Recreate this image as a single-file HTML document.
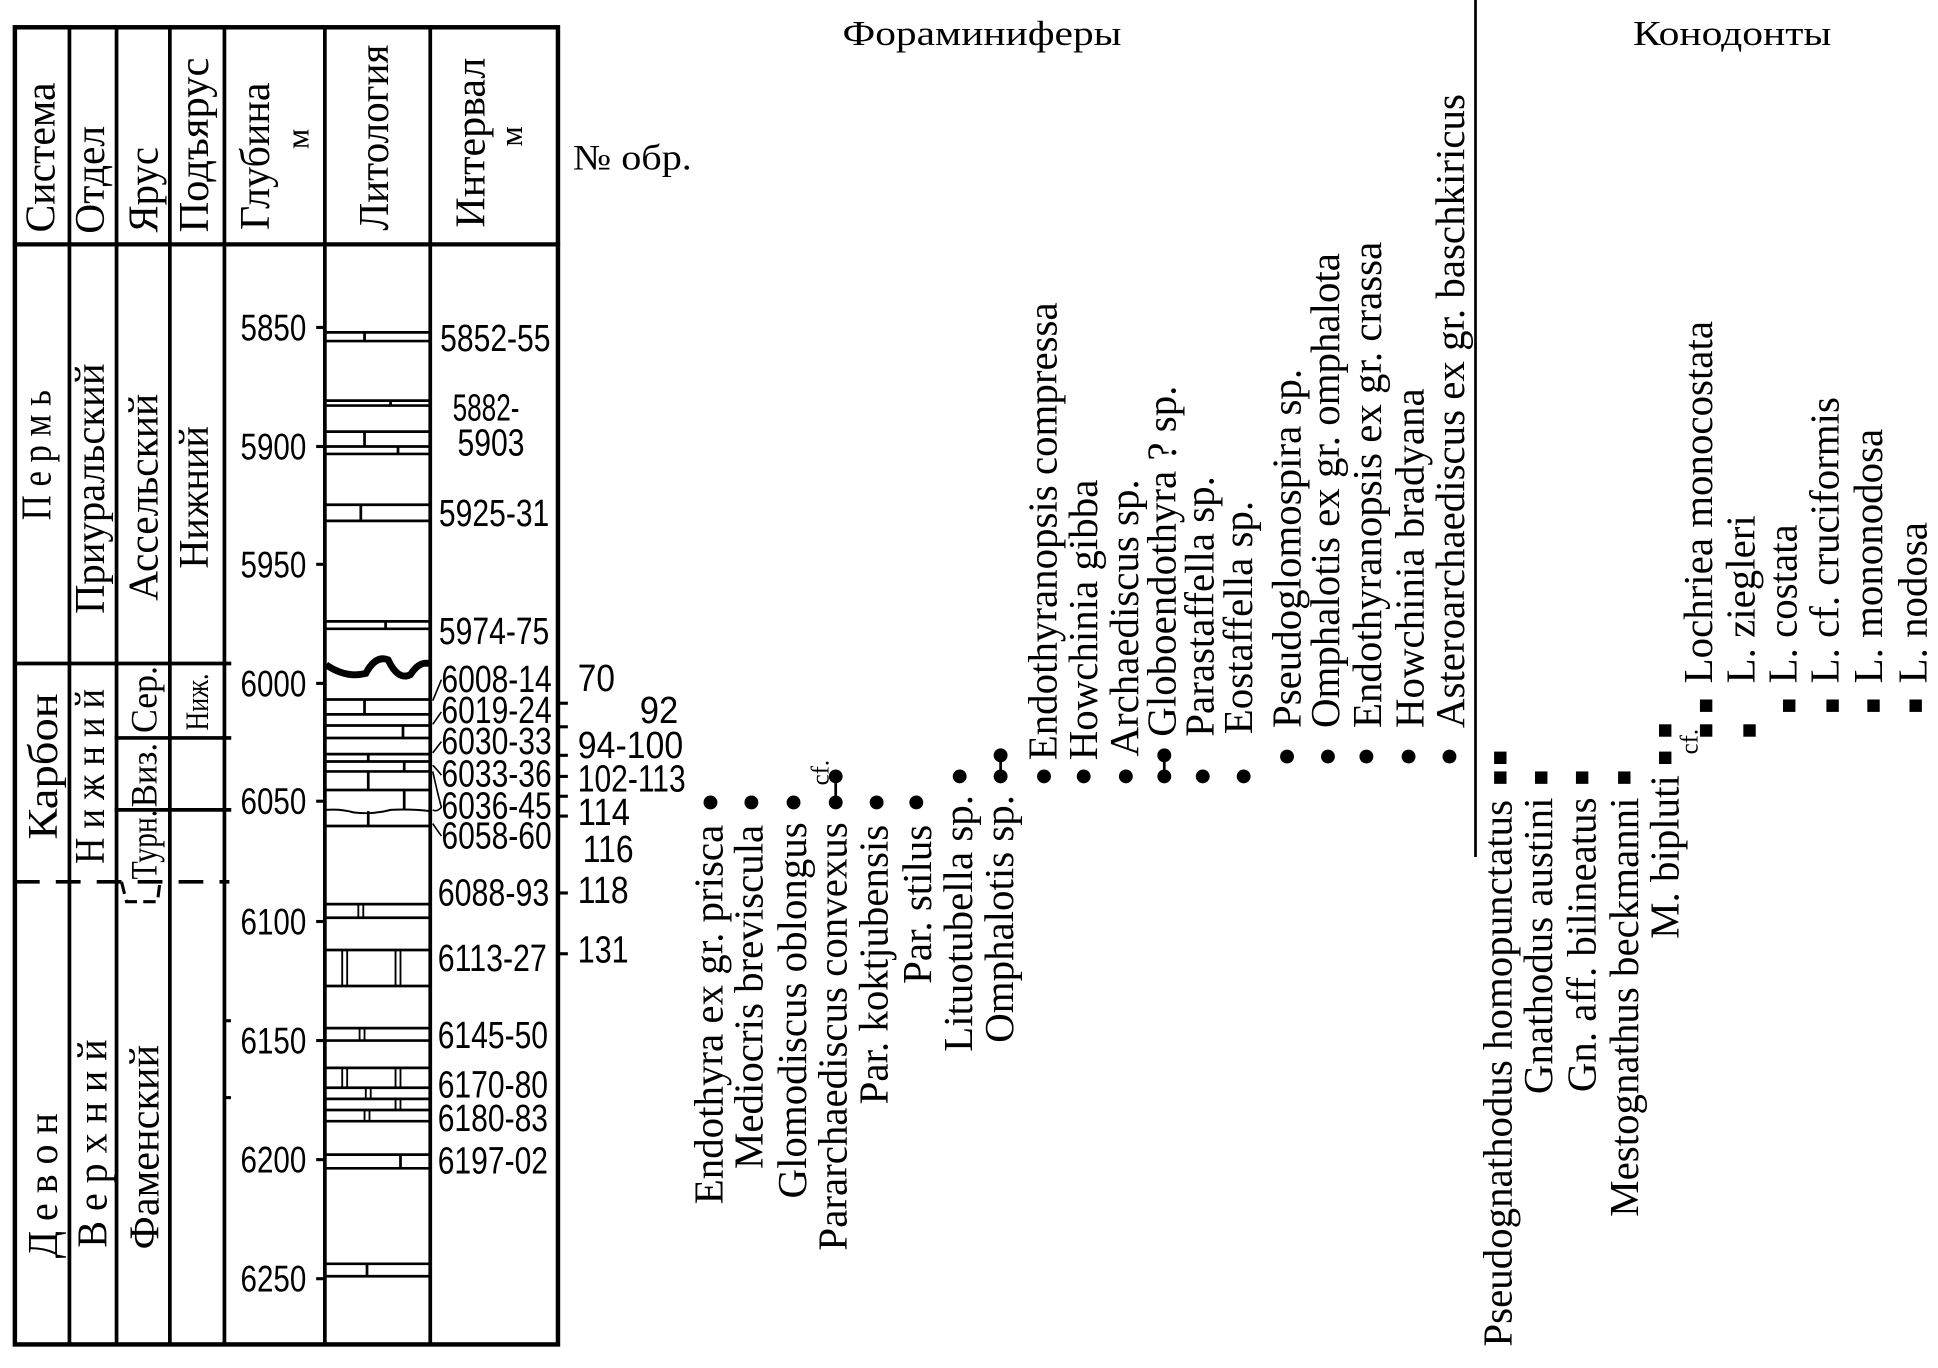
<!DOCTYPE html>
<html><head><meta charset="utf-8"><style>
html,body{margin:0;padding:0;background:#fff;}
svg{display:block;}
.s{font-family:"Liberation Serif","Noto Serif CJK SC",serif;fill:#000;}
.n{font-family:"Liberation Sans",sans-serif;fill:#000;}
</style></head><body>
<svg width="1938" height="1368" viewBox="0 0 1563 1103" preserveAspectRatio="none" xmlns="http://www.w3.org/2000/svg">
<rect width="1563" height="1103" fill="#fff"/>
<g stroke="#000" fill="none" stroke-linecap="square">
<rect x="12" y="22" width="438" height="1062" stroke-width="3.6"/>
<line x1="12" y1="197" x2="450" y2="197" stroke-width="3.4"/>
<line x1="56" y1="22" x2="56" y2="1084" stroke-width="3"/>
<line x1="94" y1="22" x2="94" y2="1084" stroke-width="3"/>
<line x1="137" y1="22" x2="137" y2="1084" stroke-width="3"/>
<line x1="181" y1="22" x2="181" y2="1084" stroke-width="3"/>
<line x1="262" y1="22" x2="262" y2="1084" stroke-width="3"/>
<line x1="347" y1="22" x2="347" y2="1084" stroke-width="3"/>
<line x1="12" y1="535" x2="185" y2="535" stroke-width="3"/>
<line x1="94" y1="595" x2="185" y2="595" stroke-width="3"/>
<line x1="94" y1="653" x2="185" y2="653" stroke-width="3"/>
<line x1="12" y1="711" x2="185" y2="711" stroke-width="3" stroke-dasharray="20 13" stroke-linecap="butt"/>
<path d="M98 711 L102 727 L127 727 L129 711" stroke-width="2.5" stroke-dasharray="10 5" stroke-linecap="butt"/>
<line x1="181" y1="823" x2="185" y2="823" stroke-width="2.5"/>
<line x1="181" y1="885" x2="185" y2="885" stroke-width="2.5"/>
</g>
<g class="s" font-size="34" text-anchor="middle" dominant-baseline="central">
<text transform="translate(33,127) rotate(-90)" textLength="121" lengthAdjust="spacingAndGlyphs">Система</text>
<text transform="translate(73,145) rotate(-90)" textLength="87" lengthAdjust="spacingAndGlyphs">Отдел</text>
<text transform="translate(116,153) rotate(-90)" textLength="69" lengthAdjust="spacingAndGlyphs">Ярус</text>
<text transform="translate(157,117) rotate(-90)" textLength="141" lengthAdjust="spacingAndGlyphs">Подъярус</text>
<text transform="translate(206,126) rotate(-90)" textLength="119" lengthAdjust="spacingAndGlyphs">Глубина</text>
<text transform="translate(240,112) rotate(-90)" font-size="26">м</text>
<text transform="translate(302,111) rotate(-90)" textLength="150" lengthAdjust="spacingAndGlyphs">Литология</text>
<text transform="translate(380,115) rotate(-90)" textLength="137" lengthAdjust="spacingAndGlyphs">Интервал</text>
<text transform="translate(412,110) rotate(-90)" font-size="26">м</text>
<text transform="translate(30,367) rotate(-90)" textLength="105" lengthAdjust="spacingAndGlyphs">П е р м ь</text>
<text transform="translate(73,394) rotate(-90)" textLength="202" lengthAdjust="spacingAndGlyphs">Приуральский</text>
<text transform="translate(116,401) rotate(-90)" textLength="167" lengthAdjust="spacingAndGlyphs">Ассельский</text>
<text transform="translate(157,401) rotate(-90)" textLength="115" lengthAdjust="spacingAndGlyphs">Нижний</text>
<text transform="translate(35,618) rotate(-90)" textLength="118" lengthAdjust="spacingAndGlyphs">Карбон</text>
<text transform="translate(73,626) rotate(-90)" textLength="141" lengthAdjust="spacingAndGlyphs">Н и ж н и й</text>
<text transform="translate(117,564) rotate(-90)" font-size="30" textLength="54" lengthAdjust="spacingAndGlyphs">Сер.</text>
<text transform="translate(159,566) rotate(-90)" font-size="26" textLength="46" lengthAdjust="spacingAndGlyphs">Ниж.</text>
<text transform="translate(117,625) rotate(-90)" font-size="30" textLength="52" lengthAdjust="spacingAndGlyphs">Виз.</text>
<text transform="translate(117,681) rotate(-90)" font-size="30" textLength="56" lengthAdjust="spacingAndGlyphs">Турн.</text>
<text transform="translate(35,956) rotate(-90)" textLength="117" lengthAdjust="spacingAndGlyphs">Д е в о н</text>
<text transform="translate(75,922) rotate(-90)" textLength="168" lengthAdjust="spacingAndGlyphs">В е р х н и й</text>
<text transform="translate(117,925) rotate(-90)" textLength="165" lengthAdjust="spacingAndGlyphs">Фаменский</text>
</g>
<g stroke="#000" stroke-width="2.5">
<line x1="255" y1="264" x2="262" y2="264"/><line x1="255" y1="360" x2="262" y2="360"/>
<line x1="255" y1="455" x2="262" y2="455"/><line x1="255" y1="551" x2="262" y2="551"/>
<line x1="255" y1="646" x2="262" y2="646"/><line x1="255" y1="743" x2="262" y2="743"/>
<line x1="255" y1="839" x2="262" y2="839"/><line x1="255" y1="935" x2="262" y2="935"/>
<line x1="255" y1="1031" x2="262" y2="1031"/>
</g>
<g class="n" font-size="30" text-anchor="end" dominant-baseline="central">
<text x="247" y="264" textLength="53" lengthAdjust="spacingAndGlyphs">5850</text>
<text x="247" y="360" textLength="53" lengthAdjust="spacingAndGlyphs">5900</text>
<text x="247" y="455" textLength="53" lengthAdjust="spacingAndGlyphs">5950</text>
<text x="247" y="551" textLength="53" lengthAdjust="spacingAndGlyphs">6000</text>
<text x="247" y="646" textLength="53" lengthAdjust="spacingAndGlyphs">6050</text>
<text x="247" y="743" textLength="53" lengthAdjust="spacingAndGlyphs">6100</text>
<text x="247" y="839" textLength="53" lengthAdjust="spacingAndGlyphs">6150</text>
<text x="247" y="935" textLength="53" lengthAdjust="spacingAndGlyphs">6200</text>
<text x="247" y="1031" textLength="53" lengthAdjust="spacingAndGlyphs">6250</text>
</g>
<g stroke="#000" stroke-width="2.2" fill="none">
<line x1="262" y1="268" x2="347" y2="268"/><line x1="262" y1="275" x2="347" y2="275"/><line x1="294" y1="268" x2="294" y2="275"/>
<line x1="262" y1="323" x2="347" y2="323"/><line x1="262" y1="327" x2="347" y2="327"/><line x1="315" y1="323" x2="315" y2="327"/>
<line x1="262" y1="348" x2="347" y2="348"/><line x1="262" y1="360" x2="347" y2="360"/><line x1="262" y1="366" x2="347" y2="366"/>
<line x1="294" y1="348" x2="294" y2="360"/><line x1="321" y1="360" x2="321" y2="366"/>
<line x1="262" y1="407" x2="347" y2="407"/><line x1="262" y1="420" x2="347" y2="420"/><line x1="291" y1="407" x2="291" y2="420"/>
<line x1="262" y1="501" x2="347" y2="501"/><line x1="262" y1="507" x2="347" y2="507"/><line x1="311" y1="501" x2="311" y2="507"/>
<path d="M263 536 Q279 547 295 543 Q303 528 313 532 Q321 549 331 544 Q338 533 346 535" stroke-width="5.5"/>
<line x1="262" y1="564" x2="347" y2="564"/><line x1="262" y1="576" x2="347" y2="576"/><line x1="294" y1="564" x2="294" y2="576"/>
<line x1="262" y1="585" x2="347" y2="585"/><line x1="262" y1="595" x2="347" y2="595"/><line x1="325" y1="585" x2="325" y2="595"/>
<line x1="262" y1="608" x2="347" y2="608"/><line x1="262" y1="614" x2="347" y2="614"/><line x1="297" y1="608" x2="297" y2="614"/>
<line x1="262" y1="622" x2="347" y2="622"/><line x1="326" y1="614" x2="326" y2="622"/>
<line x1="262" y1="637" x2="347" y2="637"/><line x1="297" y1="622" x2="297" y2="637"/>
<path d="M262 653 Q275 652 285 655 Q300 657 315 653 Q330 652 347 654" stroke-width="1.6"/><line x1="326" y1="637" x2="326" y2="653"/>
<line x1="262" y1="666" x2="347" y2="666"/><line x1="297" y1="654" x2="297" y2="666"/>
<line x1="262" y1="729" x2="347" y2="729"/><line x1="262" y1="740" x2="347" y2="740"/>
<line x1="289" y1="729" x2="289" y2="740" stroke-width="1.5"/><line x1="293" y1="729" x2="293" y2="740" stroke-width="1.5"/>
<line x1="262" y1="766" x2="347" y2="766"/><line x1="262" y1="795" x2="347" y2="795"/>
<line x1="276" y1="766" x2="276" y2="795" stroke-width="1.5"/><line x1="280" y1="766" x2="280" y2="795" stroke-width="1.5"/>
<line x1="319" y1="766" x2="319" y2="795" stroke-width="1.5"/><line x1="323" y1="766" x2="323" y2="795" stroke-width="1.5"/>
<line x1="262" y1="829" x2="347" y2="829"/><line x1="262" y1="839" x2="347" y2="839"/>
<line x1="290" y1="829" x2="290" y2="839" stroke-width="1.5"/><line x1="294" y1="829" x2="294" y2="839" stroke-width="1.5"/>
<line x1="262" y1="861" x2="347" y2="861"/><line x1="262" y1="877" x2="347" y2="877"/><line x1="262" y1="886" x2="347" y2="886"/>
<line x1="262" y1="895" x2="347" y2="895"/><line x1="262" y1="904" x2="347" y2="904"/>
<line x1="276" y1="861" x2="276" y2="877" stroke-width="1.5"/><line x1="280" y1="861" x2="280" y2="877" stroke-width="1.5"/>
<line x1="319" y1="861" x2="319" y2="877" stroke-width="1.5"/><line x1="323" y1="861" x2="323" y2="877" stroke-width="1.5"/>
<line x1="295" y1="877" x2="295" y2="886" stroke-width="1.5"/><line x1="299" y1="877" x2="299" y2="886" stroke-width="1.5"/>
<line x1="319" y1="886" x2="319" y2="895" stroke-width="1.5"/><line x1="323" y1="886" x2="323" y2="895" stroke-width="1.5"/>
<line x1="294" y1="895" x2="294" y2="904" stroke-width="1.5"/><line x1="298" y1="895" x2="298" y2="904" stroke-width="1.5"/>
<line x1="262" y1="931" x2="347" y2="931"/><line x1="262" y1="942" x2="347" y2="942"/><line x1="323" y1="931" x2="323" y2="942"/>
<line x1="262" y1="1019" x2="347" y2="1019"/><line x1="262" y1="1029" x2="347" y2="1029"/><line x1="296" y1="1019" x2="296" y2="1029"/>
</g>
<g stroke="#000" stroke-width="1.3" fill="none">
<path d="M349 565 L356 548"/>
<path d="M349 584 L356 574"/>
<path d="M349 607 L356 598"/>
<path d="M349 617 Q352 620 356 625"/>
<path d="M349 622 Q353 640 356 651 Q352 655 349 653"/>
<path d="M349 664 Q353 670 356 674"/>
</g>
<g class="n" font-size="31" dominant-baseline="central">
<text x="355" y="273" textLength="89" lengthAdjust="spacingAndGlyphs">5852-55</text>
<text x="365" y="329" textLength="54" lengthAdjust="spacingAndGlyphs">5882-</text>
<text x="369" y="357" textLength="54" lengthAdjust="spacingAndGlyphs">5903</text>
<text x="354" y="414" textLength="89" lengthAdjust="spacingAndGlyphs">5925-31</text>
<text x="354" y="509" textLength="89" lengthAdjust="spacingAndGlyphs">5974-75</text>
<text x="356" y="548" textLength="89" lengthAdjust="spacingAndGlyphs">6008-14</text>
<text x="356" y="573" textLength="89" lengthAdjust="spacingAndGlyphs">6019-24</text>
<text x="356" y="598" textLength="89" lengthAdjust="spacingAndGlyphs">6030-33</text>
<text x="356" y="624" textLength="89" lengthAdjust="spacingAndGlyphs">6033-36</text>
<text x="356" y="650" textLength="89" lengthAdjust="spacingAndGlyphs">6036-45</text>
<text x="356" y="674" textLength="89" lengthAdjust="spacingAndGlyphs">6058-60</text>
<text x="353" y="720" textLength="90" lengthAdjust="spacingAndGlyphs">6088-93</text>
<text x="353" y="773" textLength="88" lengthAdjust="spacingAndGlyphs">6113-27</text>
<text x="353" y="835" textLength="89" lengthAdjust="spacingAndGlyphs">6145-50</text>
<text x="353" y="875" textLength="89" lengthAdjust="spacingAndGlyphs">6170-80</text>
<text x="353" y="902" textLength="89" lengthAdjust="spacingAndGlyphs">6180-83</text>
<text x="353" y="936" textLength="89" lengthAdjust="spacingAndGlyphs">6197-02</text>
</g>
<g stroke="#000" stroke-width="2.5">
<line x1="450" y1="567" x2="458" y2="567"/><line x1="450" y1="586" x2="458" y2="586"/>
<line x1="450" y1="609" x2="458" y2="609"/><line x1="450" y1="626" x2="458" y2="626"/>
<line x1="450" y1="642" x2="458" y2="642"/><line x1="450" y1="658" x2="458" y2="658"/>
<line x1="450" y1="720" x2="458" y2="720"/><line x1="450" y1="769" x2="458" y2="769"/>
</g>
<g class="n" font-size="31" dominant-baseline="central">
<text x="466" y="547" textLength="30" lengthAdjust="spacingAndGlyphs">70</text>
<text x="516" y="573" textLength="31" lengthAdjust="spacingAndGlyphs">92</text>
<text x="466" y="601" textLength="85" lengthAdjust="spacingAndGlyphs">94-100</text>
<text x="466" y="628" textLength="87" lengthAdjust="spacingAndGlyphs">102-113</text>
<text x="466" y="655" textLength="42" lengthAdjust="spacingAndGlyphs">114</text>
<text x="470" y="685" textLength="41" lengthAdjust="spacingAndGlyphs">116</text>
<text x="466" y="718" textLength="41" lengthAdjust="spacingAndGlyphs">118</text>
<text x="466" y="766" textLength="41" lengthAdjust="spacingAndGlyphs">131</text>
</g>
<text class="s" x="462" y="127" font-size="29" dominant-baseline="central" textLength="96" lengthAdjust="spacingAndGlyphs">№ обр.</text>
<text class="s" x="792" y="27" font-size="28" text-anchor="middle" dominant-baseline="central" textLength="225" lengthAdjust="spacingAndGlyphs">Фораминиферы</text>
<text class="s" x="1397" y="27" font-size="28" text-anchor="middle" dominant-baseline="central" textLength="160" lengthAdjust="spacingAndGlyphs">Конодонты</text>
<line x1="1190" y1="0" x2="1190" y2="691" stroke="#000" stroke-width="2.2"/>
<g fill="#000" stroke="#000" stroke-width="2.2">
<circle cx="573" cy="647" r="4.5"/><circle cx="606" cy="647" r="4.5"/><circle cx="640" cy="647" r="4.5"/>
<circle cx="674" cy="647" r="4.5"/><circle cx="674" cy="626" r="4.5"/><line x1="674" y1="626" x2="674" y2="647"/>
<circle cx="707" cy="647" r="4.5"/><circle cx="739" cy="647" r="4.5"/>
<circle cx="774" cy="626" r="4.5"/>
<circle cx="807" cy="609" r="4.5"/><circle cx="807" cy="626" r="4.5"/><line x1="807" y1="609" x2="807" y2="626"/>
<circle cx="842" cy="626" r="4.5"/><circle cx="874" cy="626" r="4.5"/><circle cx="908" cy="626" r="4.5"/>
<circle cx="939" cy="609" r="4.5"/><circle cx="939" cy="626" r="4.5"/><line x1="939" y1="609" x2="939" y2="626"/>
<circle cx="970" cy="626" r="4.5"/><circle cx="1003" cy="626" r="4.5"/>
<circle cx="1038" cy="610" r="4.5"/><circle cx="1071" cy="610" r="4.5"/><circle cx="1102" cy="610" r="4.5"/>
<circle cx="1136" cy="610" r="4.5"/><circle cx="1169" cy="610" r="4.5"/>
</g>
<text class="s" transform="translate(662,623) rotate(-90)" font-size="20" text-anchor="middle" dominant-baseline="central">cf.</text>
<g class="s" font-size="33" dominant-baseline="central">
<g text-anchor="end">
<text transform="translate(572,665) rotate(-90)">Endothyra ex gr. prisca</text>
<text transform="translate(604,665) rotate(-90)">Mediocris breviscula</text>
<text transform="translate(639,663) rotate(-90)">Glomodiscus oblongus</text>
<text transform="translate(672,663) rotate(-90)">Pararchaediscus convexus</text>
<text transform="translate(705,665) rotate(-90)">Par. koktjubensis</text>
<text transform="translate(740,665) rotate(-90)">Par. stilus</text>
<text transform="translate(773,641) rotate(-90)">Lituotubella sp.</text>
<text transform="translate(806,641) rotate(-90)">Omphalotis sp.</text>
</g>
<g text-anchor="start">
<text transform="translate(841,613) rotate(-90)">Endothyranopsis compressa</text>
<text transform="translate(874,613) rotate(-90)">Howchinia gibba</text>
<text transform="translate(907,610) rotate(-90)">Archaediscus sp.</text>
<text transform="translate(937,594) rotate(-90)">Globoendothyra ? sp.</text>
<text transform="translate(968,594) rotate(-90)">Parastaffella sp.</text>
<text transform="translate(999,592) rotate(-90)">Eostaffella sp.</text>
<text transform="translate(1038,587) rotate(-90)">Pseudoglomospira sp.</text>
<text transform="translate(1069,587) rotate(-90)">Omphalotis ex gr. omphalota</text>
<text transform="translate(1103,587) rotate(-90)">Endothyranopsis ex gr. crassa</text>
<text transform="translate(1137,587) rotate(-90)">Howchinia bradyana</text>
<text transform="translate(1170,587) rotate(-90)">Asteroarchaediscus ex gr. baschkiricus</text>
</g>
</g>
<g fill="#000">
<rect x="1205" y="606" width="10" height="10"/><rect x="1205" y="622" width="10" height="10"/>
<rect x="1238" y="622" width="10" height="10"/><rect x="1271" y="622" width="10" height="10"/>
<rect x="1305" y="622" width="10" height="10"/>
<rect x="1338" y="584" width="10" height="10"/><rect x="1338" y="606" width="10" height="10"/>
<rect x="1371" y="564" width="10" height="10"/><rect x="1371" y="584" width="10" height="10"/>
<rect x="1406" y="584" width="10" height="10"/>
<rect x="1438" y="564" width="10" height="10"/><rect x="1473" y="564" width="10" height="10"/>
<rect x="1506" y="564" width="10" height="10"/><rect x="1540" y="564" width="10" height="10"/>
</g>
<text class="s" transform="translate(1363,598) rotate(-90)" font-size="20" text-anchor="middle" dominant-baseline="central">cf.</text>
<g class="s" font-size="33" dominant-baseline="central">
<g text-anchor="end">
<text transform="translate(1208,645) rotate(-90)">Pseudognathodus homopunctatus</text>
<text transform="translate(1241,643) rotate(-90)">Gnathodus austini</text>
<text transform="translate(1276,643) rotate(-90)">Gn. aff. bilineatus</text>
<text transform="translate(1310,643) rotate(-90)">Mestognathus beckmanni</text>
<text transform="translate(1343,625) rotate(-90)">M. bipluti</text>
</g>
<g text-anchor="start">
<text transform="translate(1370,551) rotate(-90)">Lochriea  monocostata</text>
<text transform="translate(1404,551) rotate(-90)">L. ziegleri</text>
<text transform="translate(1438,551) rotate(-90)">L. costata</text>
<text transform="translate(1472,551) rotate(-90)">L. cf. cruciformis</text>
<text transform="translate(1507,551) rotate(-90)">L. mononodosa</text>
<text transform="translate(1543,551) rotate(-90)">L. nodosa</text>
</g>
</g>
</svg>
</body></html>
